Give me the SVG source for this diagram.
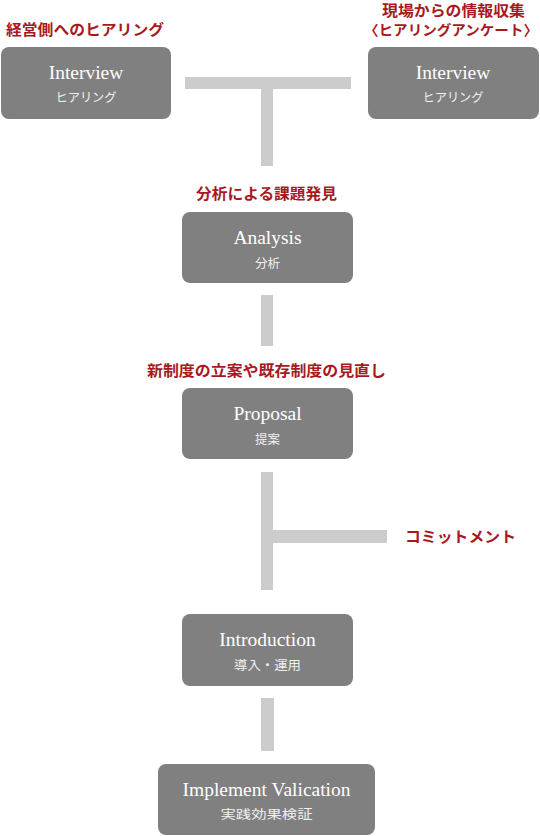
<svg xmlns="http://www.w3.org/2000/svg" width="540" height="836" viewBox="0 0 540 836">
<style>
.box{fill:#808080}
.bar{fill:#cccccc}
.en{font-family:"Liberation Serif","DejaVu Serif",serif;font-size:19.5px;fill:#ffffff;text-anchor:middle}
.jp{font-family:"Noto Sans CJK JP",sans-serif;font-size:12.5px;fill:#f0f0f0;text-anchor:middle;dominant-baseline:central}
.lbl{font-family:"Noto Sans CJK JP",sans-serif;font-size:15px;font-weight:bold;fill:#a8191f;dominant-baseline:central}
</style>
<rect width="540" height="836" fill="#ffffff"/>
<g id="connectors">
<rect class="bar" x="185" y="77" width="166" height="12"/>
<rect class="bar" x="261" y="89" width="12" height="77"/>
<rect class="bar" x="261" y="295" width="12" height="51"/>
<rect class="bar" x="261" y="472" width="12" height="118"/>
<rect class="bar" x="273" y="530" width="114" height="13"/>
<rect class="bar" x="261" y="698" width="13" height="53"/>
</g>
<g id="label-keiei"><text class="lbl" x="6" y="28.5" textLength="158" lengthAdjust="spacingAndGlyphs">経営側へのヒアリング</text></g>
<g id="label-genba">
<text class="lbl" x="453.5" y="9" text-anchor="middle" textLength="143" lengthAdjust="spacingAndGlyphs">現場からの情報収集</text>
<text class="lbl" x="451" y="29" text-anchor="middle" style="font-size:14px" textLength="174" lengthAdjust="spacingAndGlyphs">〈ヒアリングアンケート〉</text>
</g>
<g id="interview-left">
<rect class="box" x="1" y="47" width="170" height="72" rx="8"/>
<text class="en" x="86" y="79">Interview</text>
<text class="jp" x="86" y="96" textLength="61" lengthAdjust="spacingAndGlyphs">ヒアリング</text>
</g>
<g id="interview-right">
<rect class="box" x="368" y="47" width="171" height="72" rx="8"/>
<text class="en" x="453" y="79">Interview</text>
<text class="jp" x="453" y="96" textLength="61" lengthAdjust="spacingAndGlyphs">ヒアリング</text>
</g>
<g id="label-bunseki"><text class="lbl" x="266.5" y="192" text-anchor="middle" textLength="141" lengthAdjust="spacingAndGlyphs">分析による課題発見</text></g>
<g id="analysis">
<rect class="box" x="182" y="212" width="171" height="71" rx="8"/>
<text class="en" x="267.5" y="244">Analysis</text>
<text class="jp" x="267.5" y="262">分析</text>
</g>
<g id="label-shinseido"><text class="lbl" x="266.5" y="369.5" text-anchor="middle" textLength="239" lengthAdjust="spacingAndGlyphs">新制度の立案や既存制度の見直し</text></g>
<g id="proposal">
<rect class="box" x="182" y="388" width="171" height="71" rx="8"/>
<text class="en" x="267.5" y="420">Proposal</text>
<text class="jp" x="267.5" y="438">提案</text>
</g>
<g id="label-commit"><text class="lbl" x="405" y="535.5" textLength="111" lengthAdjust="spacingAndGlyphs">コミットメント</text></g>
<g id="introduction">
<rect class="box" x="182" y="614" width="171" height="72" rx="8"/>
<text class="en" x="267.5" y="646">Introduction</text>
<text class="jp" x="267.5" y="664" textLength="67" lengthAdjust="spacingAndGlyphs">導入・運用</text>
</g>
<g id="implement">
<rect class="box" x="158" y="764" width="217" height="71" rx="8"/>
<text class="en" x="266.5" y="796">Implement Valication</text>
<text class="jp" x="266.5" y="813" textLength="92" lengthAdjust="spacingAndGlyphs">実践効果検証</text>
</g>
</svg>
